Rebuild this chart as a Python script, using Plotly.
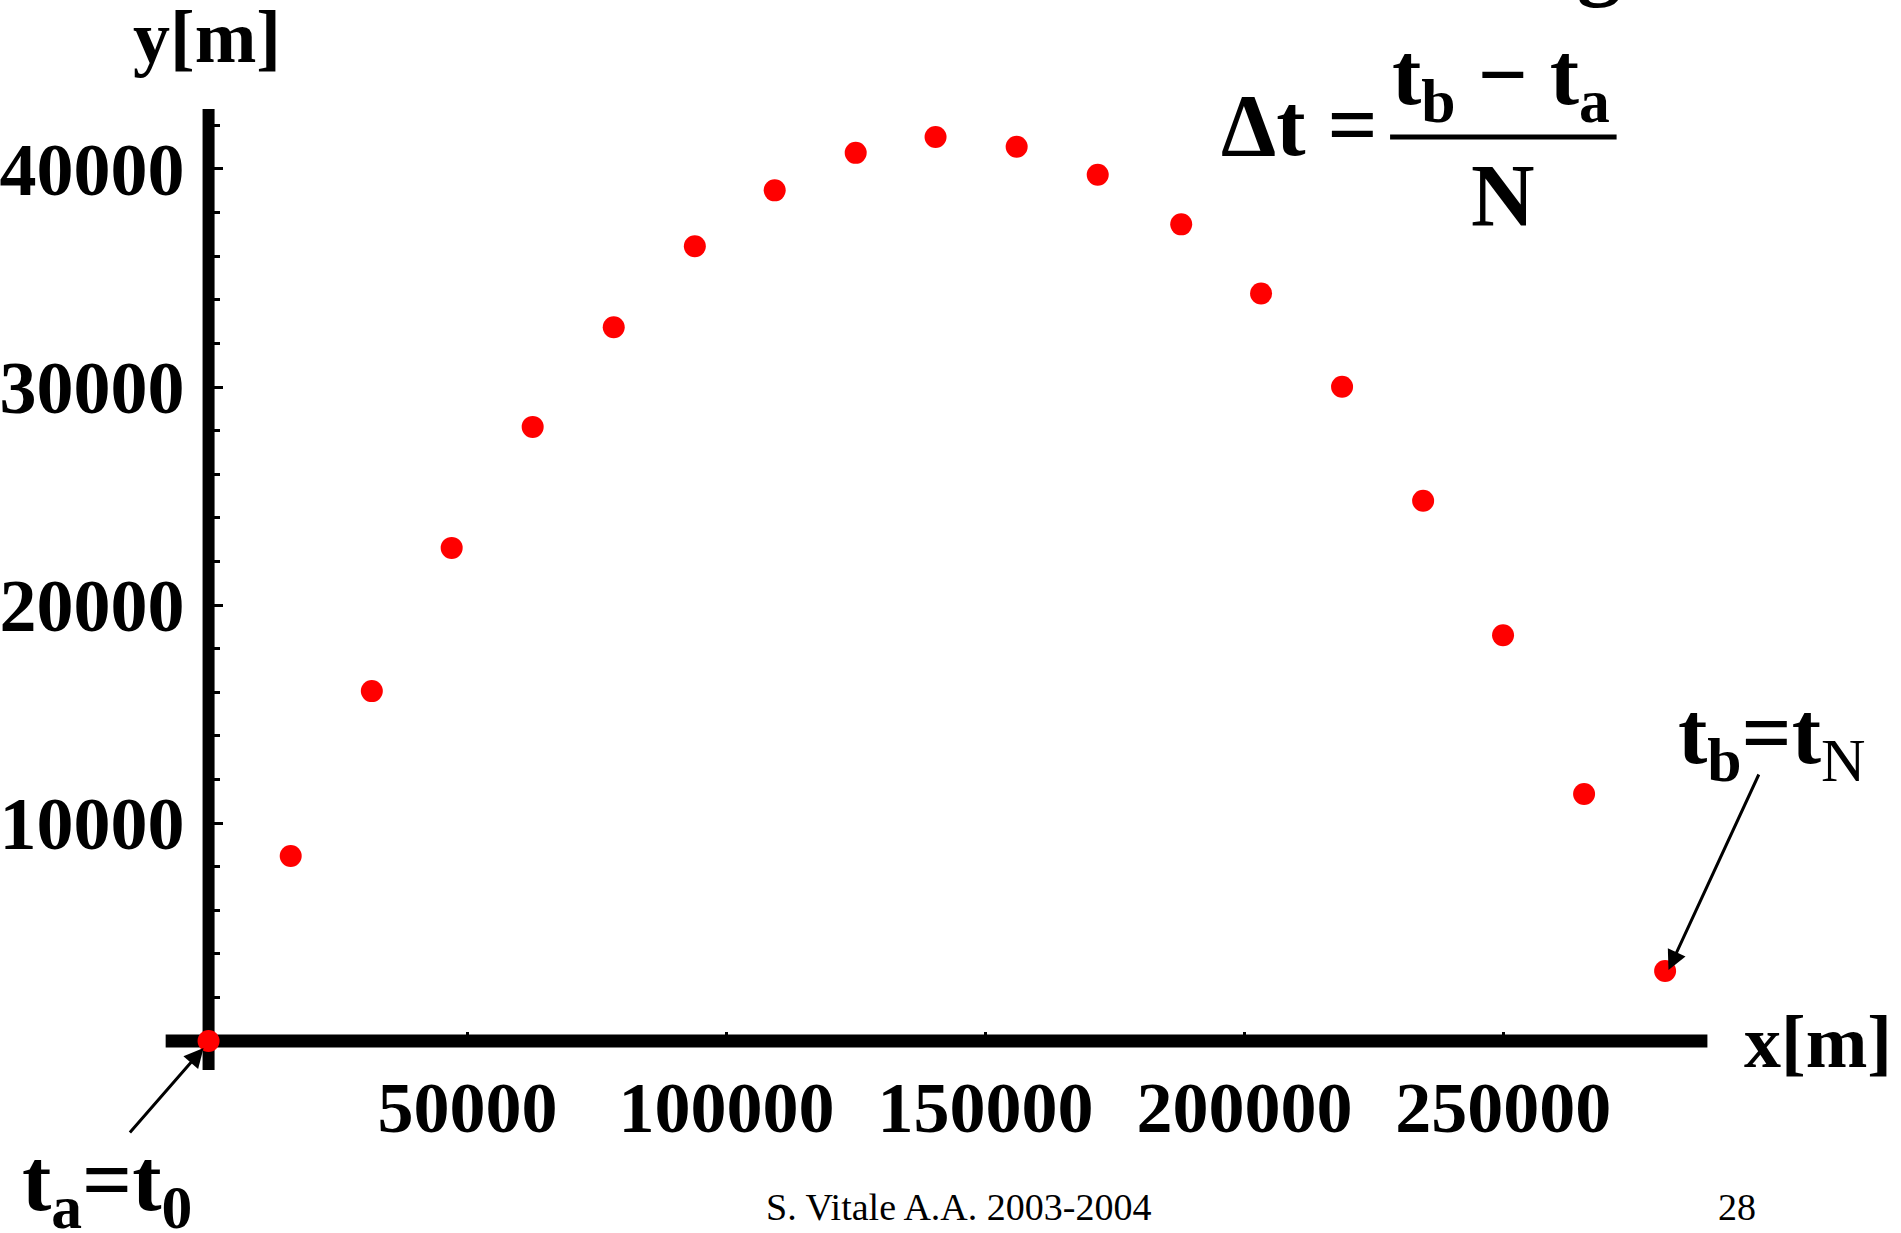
import plotly.graph_objects as go

# ---- data ----
x_m = [0, 15860, 31520, 46940, 62580, 78230, 93890, 109310, 124950, 140370,
       156030, 171680, 187800, 203220, 218860, 234510, 249940, 265590, 281230]
y_m = [0, 8490, 16050, 22620, 28170, 32740, 36460, 39020, 40740, 41470,
       41020, 39740, 37460, 34290, 30010, 24780, 18610, 11330, 3210]

x_tickvals = [50000, 100000, 150000, 200000, 250000]
x_ticktext = ["50000", "100000", "150000", "200000", "250000"]
y_tickvals = [10000, 20000, 30000, 40000]
y_ticktext = ["10000", "20000", "30000", "40000"]
y_minorvals = [2000, 4000, 6000, 8000, 12000, 14000, 16000, 18000, 22000, 24000,
               26000, 28000, 32000, 34000, 36000, 38000, 42000]

W, H = 1901, 1233
def px(x):
    return x / W
def py(y):
    return 1 - y / H

SERIF = "Liberation Serif"

fig = go.Figure()
fig.add_trace(go.Scatter(
    x=x_m, y=y_m, mode="markers",
    marker=dict(color="#ff0000", size=22, line=dict(width=0)),
    cliponaxis=False, showlegend=False, hoverinfo="x+y",
))

tickfont = dict(family=SERIF, size=72, color="black", weight="bold")
ytickfont = dict(family=SERIF, size=74, color="black", weight="bold")

fig.update_layout(
    width=W, height=H,
    margin=dict(l=0, r=0, t=0, b=0),
    paper_bgcolor="white", plot_bgcolor="white",
    showlegend=False,
    xaxis=dict(
        domain=[px(162), px(1707)],
        range=[-8285, 289400],
        anchor="free", position=py(1041),
        showgrid=False, zeroline=False, showline=False,
        tickmode="array", tickvals=x_tickvals, ticktext=x_ticktext,
        ticks="inside", ticklen=9, tickwidth=3, tickcolor="black",
        tickfont=tickfont, ticklabelstandoff=18,
    ),
    yaxis=dict(
        domain=[py(1070), py(109)],
        range=[-1330, 42752],
        anchor="free", position=px(205),
        showgrid=False, zeroline=False, showline=False,
        tickmode="array", tickvals=y_tickvals, ticktext=y_ticktext,
        ticks="inside", ticklen=13, tickwidth=3, tickcolor="black",
        minor=dict(tickmode="array", tickvals=y_minorvals, ticks="inside",
                   ticklen=10, tickwidth=3, tickcolor="black"),
        tickfont=ytickfont, ticklabelstandoff=24,
    ),
)

# axis lines crossing at the origin
fig.add_shape(type="line", xref="x", yref="y domain", x0=0, x1=0, y0=0, y1=1,
              line=dict(color="black", width=12), layer="below")
fig.add_shape(type="line", xref="x domain", yref="y", x0=0, x1=1, y0=0, y1=0,
              line=dict(color="black", width=13), layer="below")

# fraction bar of the formula
fig.add_shape(type="line", xref="paper", yref="paper",
              x0=px(1389), x1=px(1616), y0=py(137), y1=py(137),
              line=dict(color="black", width=5))

def note(text, x, y, size, xanchor="center", yanchor="middle", weight="bold"):
    fig.add_annotation(text=text, xref="paper", yref="paper", x=px(x), y=py(y),
                       xanchor=xanchor, yanchor=yanchor, showarrow=False,
                       font=dict(family=SERIF, size=size, color="black", weight=weight))

# axis labels
note("y[m]", 203, 37, 74)
note("x[m]", 1818, 1042, 74)

# formula  Δt = (t_b - t_a) / N
note("Δt =", 1218, 126, 88, xanchor="left")
note("t<sub>b</sub> − t<sub>a</sub>", 1500, 80, 88)
note("N", 1502, 195, 88)

# partially visible title glyph at the top edge
note("g", 1598, 10, 88, yanchor="bottom")

# endpoint labels
note("<b>t<sub>b</sub>=t</b><sub>N</sub>", 1772, 739, 88, weight="normal")
note("t<sub>a</sub>=t<sub>0</sub>", 103, 1186, 88)

# arrows
fig.add_annotation(text="", xref="paper", yref="paper", x=px(200), y=py(1048),
                   ax=-75, ay=86, showarrow=True, arrowhead=2, arrowsize=1.3,
                   arrowwidth=3, arrowcolor="black", standoff=0)
fig.add_annotation(text="", xref="paper", yref="paper", x=px(1668), y=py(970),
                   ax=91, ay=-197, showarrow=True, arrowhead=2, arrowsize=1.3,
                   arrowwidth=3, arrowcolor="black", standoff=0)

# footer
note("S. Vitale A.A. 2003-2004", 957, 1207, 38, weight="normal")
note("28", 1737, 1207, 38, weight="normal")

fig.write_html("out.html")
